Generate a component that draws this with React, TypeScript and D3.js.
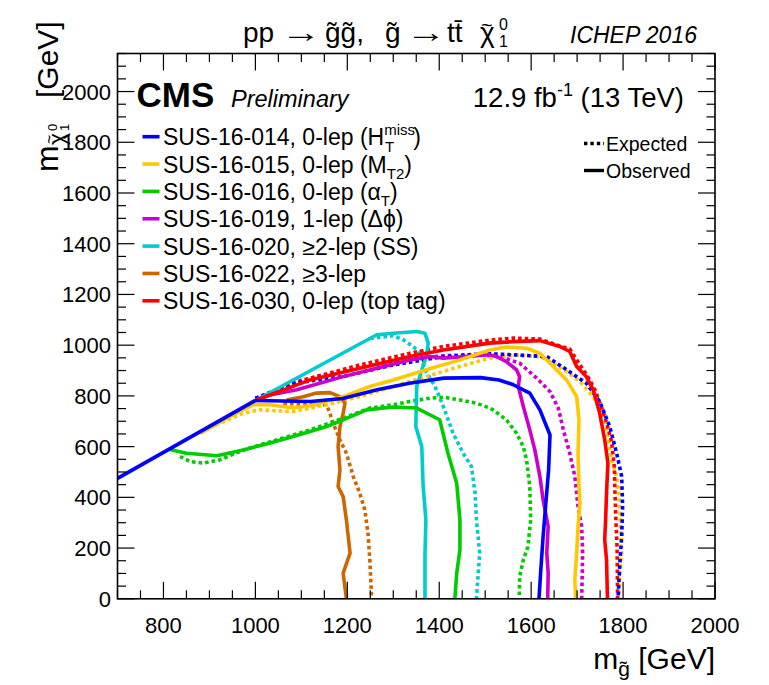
import React from 'react';
import * as d3 from 'd3';

type Pt = [number, number];

// axis ticks
const xMajor = [800, 1000, 1200, 1400, 1600, 1800, 2000];
const yMajor = [0, 200, 400, 600, 800, 1000, 1200, 1400, 1600, 1800, 2000];

// kinematic diagonal shared by all contours
const diagonal: Pt[] = [[700, 475], [1000, 782]];

// SUS-16-014 (blue)
const sus014Obs: Pt[] = [[1000, 782], [1060, 780], [1120, 778], [1190, 790], [1265, 824], [1335, 850], [1410, 870], [1490, 872], [1530, 863], [1560, 845], [1597, 811], [1619, 745], [1641, 646], [1638, 508], [1632, 377], [1626, 246], [1621, 114], [1617, 0]];
const sus014Exp: Pt[] = [[1000, 790], [1082, 850], [1191, 876], [1300, 922], [1409, 955], [1510, 966], [1561, 962], [1634, 955], [1677, 903], [1720, 850], [1749, 778], [1771, 679], [1786, 574], [1797, 482], [1799, 364], [1797, 246], [1793, 141], [1789, 0]];

// SUS-16-015 (yellow)
const sus015Obs: Pt[] = [[880, 652], [960, 735], [995, 765], [1032, 765], [1082, 752], [1119, 761], [1191, 797], [1249, 837], [1300, 863], [1372, 903], [1445, 942], [1510, 981], [1546, 993], [1590, 988], [1619, 968], [1648, 916], [1677, 863], [1699, 797], [1704, 706], [1702, 574], [1704, 443], [1706, 377], [1702, 285], [1699, 180], [1695, 75], [1697, 0]];
const sus015Exp: Pt[] = [[900, 675], [974, 732], [1010, 745], [1082, 738], [1155, 765], [1227, 797], [1300, 837], [1372, 876], [1445, 916], [1510, 949], [1561, 962], [1619, 955], [1648, 929], [1677, 896], [1706, 857], [1735, 797], [1753, 745], [1767, 640], [1775, 548], [1786, 482], [1791, 417], [1794, 311], [1797, 180], [1793, 101], [1791, 0]];

// SUS-16-016 (green)
const sus016Obs: Pt[] = [[814, 589], [850, 574], [916, 564], [974, 587], [1032, 614], [1082, 640], [1119, 660], [1155, 679], [1191, 706], [1242, 745], [1300, 756], [1351, 752], [1401, 706], [1419, 574], [1438, 456], [1445, 311], [1445, 193], [1438, 101], [1434, 0]];
const sus016Exp: Pt[] = [[836, 561], [858, 541], [887, 535], [923, 548], [974, 587], [1119, 666], [1191, 712], [1249, 752], [1300, 765], [1336, 778], [1380, 791], [1409, 795], [1445, 784], [1481, 771], [1510, 752], [1517, 745], [1546, 706], [1568, 653], [1583, 600], [1590, 548], [1597, 443], [1599, 311], [1593, 206], [1583, 154], [1575, 88], [1574, 0]];

// SUS-16-019 (magenta)
const sus019Obs: Pt[] = [[1000, 782], [1032, 804], [1090, 824], [1191, 876], [1264, 909], [1336, 942], [1380, 955], [1409, 949], [1510, 962], [1525, 955], [1546, 935], [1568, 903], [1575, 876], [1572, 837], [1583, 758], [1597, 666], [1608, 587], [1619, 482], [1626, 390], [1637, 285], [1634, 180], [1637, 101], [1636, 0]];
const sus019Exp: Pt[] = [[1000, 790], [1100, 862], [1200, 902], [1300, 937], [1400, 957], [1480, 964], [1532, 955], [1575, 929], [1612, 870], [1641, 817], [1659, 752], [1670, 666], [1684, 574], [1695, 482], [1702, 364], [1710, 285], [1712, 180], [1710, 0]];

// SUS-16-020 (cyan)
const sus020Obs: Pt[] = [[1000, 782], [1264, 1041], [1300, 1047], [1351, 1054], [1369, 1047], [1376, 1008], [1372, 955], [1362, 903], [1351, 837], [1349, 679], [1362, 600], [1365, 443], [1371, 311], [1369, 180], [1369, 0]];
const sus020Exp: Pt[] = [[1250, 1027], [1300, 1037], [1322, 1021], [1343, 995], [1358, 969], [1369, 903], [1391, 837], [1409, 758], [1430, 653], [1452, 574], [1470, 522], [1478, 417], [1481, 311], [1488, 180], [1481, 0]];

// SUS-16-022 (orange)
const sus022Obs: Pt[] = [[1068, 784], [1104, 797], [1133, 811], [1162, 813], [1184, 797], [1195, 771], [1191, 732], [1184, 679], [1180, 600], [1184, 508], [1180, 443], [1191, 403], [1198, 311], [1206, 180], [1191, 101], [1198, 0]];
const sus022Exp: Pt[] = [[1061, 771], [1119, 765], [1155, 765], [1162, 732], [1169, 693], [1184, 627], [1198, 574], [1213, 482], [1227, 417], [1238, 351], [1245, 259], [1249, 154], [1253, 0]];

// SUS-16-030 (red)
const sus030Obs: Pt[] = [[1000, 782], [1119, 863], [1227, 909], [1336, 955], [1409, 981], [1510, 1008], [1561, 1014], [1619, 1018], [1662, 995], [1684, 975], [1699, 916], [1720, 876], [1735, 824], [1749, 732], [1760, 627], [1767, 535], [1764, 417], [1762, 311], [1760, 233], [1764, 154], [1766, 0]];
const sus030Exp: Pt[] = [[1000, 790], [1120, 870], [1227, 922], [1336, 968], [1409, 995], [1510, 1020], [1561, 1028], [1619, 1024], [1665, 995], [1684, 985], [1700, 940], [1722, 880], [1740, 820], [1760, 720], [1775, 620], [1781, 520], [1782, 440], [1784, 330], [1787, 200], [1788, 0]];

const legendIds = ['SUS-16-014', 'SUS-16-015', 'SUS-16-016', 'SUS-16-019', 'SUS-16-020', 'SUS-16-022', 'SUS-16-030'];
const legendColors = ['#0000ff', '#ffc800', '#00cc00', '#cc00cc', '#00cccc', '#cc6600', '#ff0000'];

const FONT = '"Liberation Sans", Arial, Helvetica, sans-serif';

const M = { left: 117.5, right: 715, top: 53.5, bottom: 598.8 };

export default function App() {
  const x = d3.scaleLinear().domain([700, 2000]).range([M.left, M.right]);
  const y = d3.scaleLinear().domain([0, 2150]).range([M.bottom, M.top]);
  const line = d3.line<Pt>().x(d => x(d[0])).y(d => y(d[1]));

  const xMinor = d3.range(700, 2001, 50).filter(v => !xMajor.includes(v));
  const yMinor = d3.range(0, 2151, 50).filter(v => !yMajor.includes(v));

  const curves = [
    { obs: sus022Obs, exp: sus022Exp, color: legendColors[5] },
    { obs: sus020Obs, exp: sus020Exp, color: legendColors[4] },
    { obs: sus016Obs, exp: sus016Exp, color: legendColors[2] },
    { obs: sus019Obs, exp: sus019Exp, color: legendColors[3] },
    { obs: sus015Obs, exp: sus015Exp, color: legendColors[1] },
    { obs: sus030Obs, exp: sus030Exp, color: legendColors[6] },
    { obs: sus014Obs, exp: sus014Exp, color: legendColors[0] },
  ];

  const legendY = (i: number) => 136.7 + i * 27.35;
  const lf = 23;
  const sf = 15;

  const legendTail = (i: number) => {
    switch (i) {
      case 0:
        return (<>, 0-lep (H<tspan fontSize={sf} dy={-10}>miss</tspan><tspan fontSize={sf} dx={-30} dy={17}>T</tspan><tspan dx={19} dy={-7}>)</tspan></>);
      case 1:
        return (<>, 0-lep (M<tspan fontSize={sf} dy={6}>T2</tspan><tspan dy={-6}>)</tspan></>);
      case 2:
        return (<>, 0-lep (α<tspan fontSize={sf} dy={6}>T</tspan><tspan dy={-6}>)</tspan></>);
      case 3:
        return <>, 1-lep (Δϕ)</>;
      case 4:
        return <>, ≥2-lep (SS)</>;
      case 5:
        return <>, ≥3-lep</>;
      default:
        return <>, 0-lep (top tag)</>;
    }
  };

  return (
    <svg width={769} height={685} style={{ position: 'absolute', left: 0, top: 0, background: '#fff' }} fontFamily={FONT}>
      <defs>
        <clipPath id="frame">
          <rect x={M.left} y={M.top} width={M.right - M.left} height={M.bottom - M.top} />
        </clipPath>
      </defs>

      {/* contours */}
      <g clipPath="url(#frame)" fill="none">
        {curves.map((c, i) => (
          <path key={'e' + i} d={line(c.exp) || ''} stroke={c.color} strokeWidth={3.6} strokeDasharray="3.6,3" />
        ))}
        {curves.map((c, i) => (
          <path key={'o' + i} d={line(c.obs) || ''} stroke={c.color} strokeWidth={3.6} strokeLinejoin="round" />
        ))}
        <path d={line(diagonal) || ''} stroke={legendColors[0]} strokeWidth={3.8} />
      </g>

      {/* frame and ticks */}
      <g stroke="#000" strokeWidth={1.2}>
        {xMajor.map(v => (
          <g key={'xM' + v}>
            <line x1={x(v)} x2={x(v)} y1={M.bottom} y2={M.bottom - 17} />
            <line x1={x(v)} x2={x(v)} y1={M.top} y2={M.top + 17} />
          </g>
        ))}
        {xMinor.map(v => (
          <g key={'xm' + v}>
            <line x1={x(v)} x2={x(v)} y1={M.bottom} y2={M.bottom - 8.5} />
            <line x1={x(v)} x2={x(v)} y1={M.top} y2={M.top + 8.5} />
          </g>
        ))}
        {yMajor.map(v => (
          <g key={'yM' + v}>
            <line x1={M.left} x2={M.left + 17} y1={y(v)} y2={y(v)} />
            <line x1={M.right} x2={M.right - 17} y1={y(v)} y2={y(v)} />
          </g>
        ))}
        {yMinor.map(v => (
          <g key={'ym' + v}>
            <line x1={M.left} x2={M.left + 8.5} y1={y(v)} y2={y(v)} />
            <line x1={M.right} x2={M.right - 8.5} y1={y(v)} y2={y(v)} />
          </g>
        ))}
        <rect x={M.left} y={M.top} width={M.right - M.left} height={M.bottom - M.top} fill="none" strokeWidth={1.6} />
      </g>

      {/* tick labels */}
      <g fontSize={22} fill="#000">
        {xMajor.map(v => (
          <text key={'xl' + v} x={x(v)} y={633} textAnchor="middle">{v}</text>
        ))}
        {yMajor.map(v => (
          <text key={'yl' + v} x={111} y={y(v) + 8} textAnchor="end">{v}</text>
        ))}
      </g>

      {/* axis titles */}
      <text x={M.right} y={669} textAnchor="end" fontSize={30} style={{ whiteSpace: 'pre' }}>
        m<tspan fontSize={21} dy={7}>g̃</tspan><tspan dy={-7}> [GeV]</tspan>
      </text>
      <g transform="translate(58,172) rotate(-90)">
        <text x={0} y={0} fontSize={32}>m</text>
        <text x={27} y={7} fontSize={23}>χ</text>
        <text x={28} y={-3} fontSize={16}>~</text>
        <text x={41} y={-1} fontSize={13}>0</text>
        <text x={41} y={11} fontSize={13}>1</text>
        <text x={74} y={0} fontSize={30}>[GeV]</text>
      </g>

      {/* title */}
      <g fontSize={28}>
        <text x={243} y={42}>pp</text>
        <text transform="translate(281,42) scale(1.45,1)">→</text>
        <text x={325} y={42}>g̃g̃,</text>
        <text x={385} y={42}>g̃</text>
        <text transform="translate(406,42) scale(1.45,1)">→</text>
        <text x={447} y={42}>tt̄</text>
        <text x={480} y={42}>χ</text>
        <text x={481} y={32} fontSize={20}>~</text>
        <text x={499} y={30} fontSize={16}>0</text>
        <text x={499} y={47} fontSize={16}>1</text>
      </g>
      <text x={570} y={43} fontSize={23} fontStyle="italic">ICHEP 2016</text>

      {/* CMS label and lumi */}
      <text x={136.5} y={106.5} fontSize={35} fontWeight="bold">CMS</text>
      <text x={231} y={106.5} fontSize={23.5} fontStyle="italic">Preliminary</text>
      <text x={684} y={106.5} fontSize={27.5} textAnchor="end">
        12.9 fb<tspan fontSize={18} dy={-11}>-1</tspan><tspan dy={11}> (13 TeV)</tspan>
      </text>

      {/* analysis legend */}
      {legendIds.map((id, i) => (
        <g key={id}>
          <line x1={142.5} x2={159.5} y1={legendY(i)} y2={legendY(i)} stroke={legendColors[i]} strokeWidth={3.6} />
          <text x={163} y={legendY(i) + 8.5} fontSize={lf} style={{ whiteSpace: 'pre' }}>
            {id}{legendTail(i)}
          </text>
        </g>
      ))}

      {/* expected / observed legend */}
      <line x1={584} x2={604} y1={143.5} y2={143.5} stroke="#000" strokeWidth={3.4} strokeDasharray="3.4,3" />
      <text x={606} y={150.5} fontSize={19.5}>Expected</text>
      <line x1={584} x2={604} y1={170.5} y2={170.5} stroke="#000" strokeWidth={3.4} />
      <text x={606} y={177.5} fontSize={19.5}>Observed</text>
    </svg>
  );
}
